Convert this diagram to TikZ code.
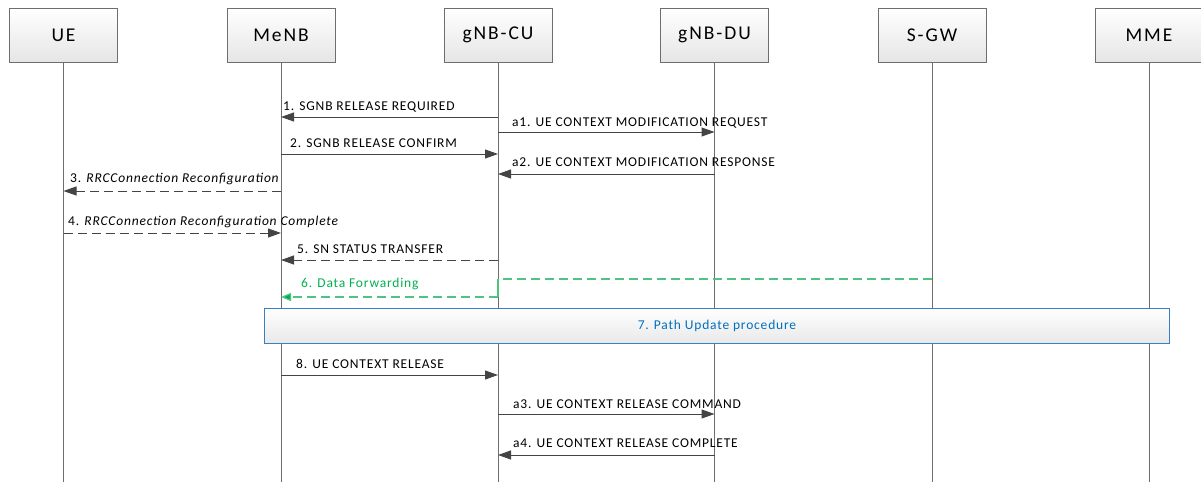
\documentclass[tikz,border=0pt]{standalone}
\usepackage{fontspec}
\setmainfont{Carlito}
\newfontfamily\lbl[LetterSpace=6]{Carlito}
\newfontfamily\hdr[LetterSpace=10]{Carlito}
\usetikzlibrary{arrows.meta}
\definecolor{lifegray}{HTML}{6E6E6E}
\definecolor{msggray}{HTML}{444444}
\definecolor{dfgreen}{HTML}{00B050}
\definecolor{dflight}{HTML}{4DC47F}
\definecolor{pubeblue}{HTML}{0070C0}
\definecolor{puborder}{HTML}{3A7FC4}
\tikzset{
  entity/.style={draw=lifegray, line width=0.9pt, top color=white, bottom color=black!10,
    minimum width=108pt, minimum height=54pt, inner sep=0pt, font=\hdr\fontsize{19.5}{22}\selectfont},
  lifeline/.style={draw=lifegray, line width=0.9pt},
  msg/.style={draw=msggray, line width=1pt, -{Triangle[length=13pt,width=9pt]}},
  dmsg/.style={msg, dash pattern=on 9pt off 5pt},
  lbltext/.style={anchor=base west, inner sep=0pt, font=\lbl\fontsize{13.5}{15}\selectfont},
}
\begin{document}
\begin{tikzpicture}[x=1pt,y=-1pt]
\useasboundingbox (0,0) rectangle (1201,482);
% entities
\node[entity] (ue)   at (63.5,35) {UE};
\node[entity] (menb) at (281,35) {MeNB};
\node[entity] (cu)   at (498,35) {gNB-CU};
\node[entity] (du)   at (714.5,35) {gNB-DU};
\node[entity] (sgw)  at (932,35) {S-GW};
\node[entity] (mme)  at (1149,35) {MME};
% lifeline ends
\coordinate (ueE)   at (63.5,482);
\coordinate (menbE) at (281,482);
\coordinate (cuE)   at (498,482);
\coordinate (duE)   at (714.5,482);
\coordinate (sgwE)  at (932,482);
\coordinate (mmeE)  at (1149,482);
\foreach \n in {ue,menb,cu,du,sgw,mme} \draw[lifeline] (\n.south) -- (\n E);
% messages
\draw[msg] (cu.south |- 0,117) -- (menb.south |- 0,117);
\node[lbltext] (l1) at (283,110.5) {1. SGNB RELEASE REQUIRED};
\draw[msg] (cu.south |- 0,132) -- (du.south |- 0,132);
\node[lbltext] (la1) at (512,126.5) {a1. UE CONTEXT MODIFICATION REQUEST};
\draw[msg] (menb.south |- 0,154) -- (cu.south |- 0,154);
\node[lbltext] (l2) at (290,147) {2. SGNB RELEASE CONFIRM};
\draw[msg] (du.south |- 0,174) -- (cu.south |- 0,174);
\node[lbltext] (la2) at (512,166.5) {a2. UE CONTEXT MODIFICATION RESPONSE};
\draw[dmsg] (menb.south |- 0,191) -- (ue.south |- 0,191);
\node[lbltext] (l3) at (70,182.5) {3. \textit{RRCConnection Reconfiguration}};
\draw[dmsg] (ue.south |- 0,233) -- (menb.south |- 0,233);
\node[lbltext] (l4) at (68,225) {4. \textit{RRCConnection Reconfiguration Complete}};
\draw[dmsg] (cu.south |- 0,260) -- (menb.south |- 0,260);
\node[lbltext] (l5) at (297,253.5) {5. SN STATUS TRANSFER};
% data forwarding
\draw[draw=dflight, line width=1.2pt, dash pattern=on 9pt off 5pt] (sgw.south |- 0,279) -- (cu.south |- 0,279);
\draw[draw=dflight, line width=1.2pt] (cu.south |- 0,279) -- (cu.south |- 0,297);
\draw[draw=dflight, line width=1.2pt, dash pattern=on 9pt off 5pt, -{Triangle[length=10pt,width=8pt,fill=dfgreen]}] (cu.south |- 0,297) -- (menb.south |- 0,297);
\node[lbltext, text=dfgreen] (l6) at (301,287.5) {6. Data Forwarding};
% path update
\node[draw=puborder, line width=0.9pt, top color=white, bottom color=black!9, minimum width=905pt, minimum height=35pt, inner sep=0pt, anchor=north west] (pu) at (264,308) {};
\node[text=pubeblue, font=\lbl\fontsize{13.5}{15}\selectfont] (pul) at (pu.center) {7. Path Update procedure};
% releases
\draw[msg] (menb.south |- 0,375) -- (cu.south |- 0,375);
\node[lbltext] (l8) at (296,368.5) {8. UE CONTEXT RELEASE};
\draw[msg] (cu.south |- 0,414) -- (du.south |- 0,414);
\node[lbltext] (la3) at (513,408.5) {a3. UE CONTEXT RELEASE COMMAND};
\draw[msg] (du.south |- 0,455) -- (cu.south |- 0,455);
\node[lbltext] (la4) at (513,447.5) {a4. UE CONTEXT RELEASE COMPLETE};
\end{tikzpicture}
\end{document}
